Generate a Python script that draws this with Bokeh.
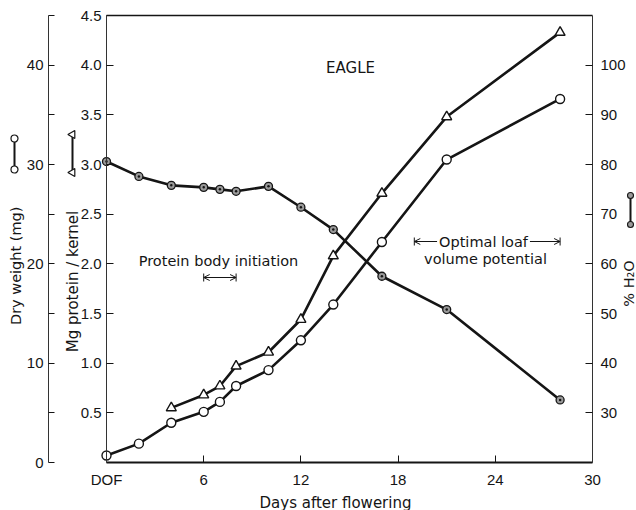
import math
from bokeh.plotting import figure
from bokeh.models import (Range1d, LinearAxis, FixedTicker, Label, Arrow, OpenHead,
                          TeeHead, ColumnDataSource, PrintfTickFormatter)
from bokeh.embed import file_html
from bokeh.resources import INLINE

# ---------------- data ----------------
days_dry = [0, 2, 4, 6, 7, 8, 10, 12, 14, 17, 21, 28]
dry_weight_mg = [0.7, 1.9, 4.0, 5.1, 6.1, 7.7, 9.3, 12.3, 15.9, 22.2, 30.5, 36.6]

days_protein = [4, 6, 7, 8, 10, 12, 14, 17, 21, 28]
protein_mg = [0.55, 0.68, 0.77, 0.97, 1.11, 1.44, 2.08, 2.71, 3.48, 4.33]

days_h2o = [0, 2, 4, 6, 7, 8, 10, 12, 14, 17, 21, 28]
h2o_pct = [80.6, 77.6, 75.8, 75.4, 75.0, 74.6, 75.6, 71.4, 66.9, 57.5, 50.8, 32.6]

x_ticks = [0, 6, 12, 18, 24, 30]
x_tick_labels = ["DOF", "6", "12", "18", "24", "30"]
protein_ticks = [0.5, 1.0, 1.5, 2.0, 2.5, 3.0, 3.5, 4.0, 4.5]
dry_ticks = [0, 10, 20, 30, 40]
dry_minor_ticks = [5, 15, 25, 35, 45]
h2o_ticks = [30, 40, 50, 60, 70, 80, 90, 100]

protein_body_days = [6, 8]
loaf_days = [19, 28]

# ---------------- layout ----------------
W, H = 636, 510
PX_DAY = 16.2          # pixels per day
X0 = 106               # pixel of day 0 (from left of figure)
PX_P = 99.33           # pixels per mg protein
Y0 = 462               # pixel of protein 0 (from top of figure)

x_start, x_end = -X0 / PX_DAY, (W - X0) / PX_DAY
y_start, y_end = -(H - Y0) / PX_P, Y0 / PX_P

FONT = "DejaVu Sans"
TICK_FONT = "Liberation Sans"
INK = "#151515"

p = figure(width=W, height=H, x_range=Range1d(x_start, x_end),
           y_range=Range1d(y_start, y_end), output_backend="svg",
           toolbar_location=None, x_axis_location=None, y_axis_location=None,
           min_border=0, outline_line_color=None)
p.background_fill_color = "white"
p.border_fill_color = "white"
p.grid.visible = False
p.extra_y_ranges = {
    "dw": Range1d(y_start * 10, y_end * 10),
    "h2o": Range1d(20 + y_start * 20, 20 + y_end * 20),
}


def style(ax, size="15px"):
    ax.major_label_text_font = TICK_FONT
    ax.major_label_text_font_size = size
    ax.major_label_text_color = INK
    ax.major_tick_line_color = INK
    ax.minor_tick_line_color = INK
    ax.axis_line_color = "#333333"
    ax.axis_line_width = 1
    ax.major_tick_out = 0
    ax.minor_tick_out = 0
    ax.minor_tick_in = 0


# protein axis (inner left)
ax_p = LinearAxis(ticker=FixedTicker(ticks=protein_ticks), fixed_location=0,
                  bounds=(0, 4.5), formatter=PrintfTickFormatter(format="%.1f"))
style(ax_p)
ax_p.major_tick_in = 7
ax_p.major_label_standoff = 5
p.add_layout(ax_p, "left")

# dry weight axis (outer left)
ax_d = LinearAxis(y_range_name="dw",
                  ticker=FixedTicker(ticks=dry_ticks, minor_ticks=dry_minor_ticks),
                  fixed_location=(48 - X0) / PX_DAY, bounds=(0, 45))
style(ax_d)
ax_d.major_tick_in = 6
ax_d.minor_tick_in = 6
ax_d.major_label_standoff = 5
p.add_layout(ax_d, "left")

# % H2O axis (right)
ax_h = LinearAxis(y_range_name="h2o", ticker=FixedTicker(ticks=h2o_ticks),
                  fixed_location=30, bounds=(20, 110))
style(ax_h)
ax_h.major_tick_in = 7
ax_h.major_label_standoff = 8
p.add_layout(ax_h, "right")

# x axis
ax_x = LinearAxis(ticker=FixedTicker(ticks=x_ticks), fixed_location=0, bounds=(0, 30),
                  major_label_overrides={t: s for t, s in zip(x_ticks, x_tick_labels)})
style(ax_x)
ax_x.axis_line_width = 2
ax_x.axis_line_color = INK
ax_x.major_tick_in = 7
ax_x.major_label_standoff = 8
p.add_layout(ax_x, "below")

# top frame line
ax_t = LinearAxis(ticker=FixedTicker(ticks=[]), fixed_location=4.5, bounds=(0, 30))
style(ax_t)
ax_t.axis_line_color = INK
ax_t.axis_line_width = 1.5
ax_t.major_tick_in = 0
ax_t.major_label_text_font_size = "0px"
p.add_layout(ax_t, "above")

# ---------------- series ----------------
src_d = ColumnDataSource(dict(day=days_dry, v=dry_weight_mg))
src_p = ColumnDataSource(dict(day=days_protein, v=protein_mg))
src_h = ColumnDataSource(dict(day=days_h2o, v=h2o_pct))

p.line("day", "v", source=src_h, y_range_name="h2o", line_width=2.6, line_color=INK)
p.scatter("day", "v", source=src_h, y_range_name="h2o", marker="circle", size=8,
          fill_color="#9a9a9a", line_color=INK, line_width=1.3)
p.scatter("day", "v", source=src_h, y_range_name="h2o", marker="circle", size=2.5,
          fill_color=INK, line_color=None)

p.line("day", "v", source=src_d, y_range_name="dw", line_width=2.6, line_color=INK)
p.scatter("day", "v", source=src_d, y_range_name="dw", marker="circle", size=9,
          fill_color="white", line_color=INK, line_width=1.4)

p.line("day", "v", source=src_p, line_width=2.6, line_color=INK)
p.scatter("day", "v", source=src_p, marker="triangle", size=10,
          fill_color="white", line_color=INK, line_width=1.4)

# ---------------- annotations ----------------
def px2day(px):
    return (px - X0) / PX_DAY


def py2p(py):
    return (Y0 - py) / PX_P


def label(text, px, py, angle=0.0, size="14.5px", bg=None, baseline="middle"):
    lab = Label(x=px2day(px), y=py2p(py), text=text, angle=angle,
                text_align="center", text_baseline=baseline, text_font=FONT,
                text_font_size=size, text_color=INK)
    if bg is not None:
        lab.background_fill_color = bg
        lab.padding = 2
    p.add_layout(lab)


label("EAGLE", 350, 67, size="15px")
label("Protein body initiation", 218, 260)
label("volume potential", 485, 258)

for a, b, yy in [(protein_body_days[0], protein_body_days[1], py2p(277)),
                 (loaf_days[0], loaf_days[1], py2p(241))]:
    p.add_layout(Arrow(x_start=a, y_start=yy, x_end=b, y_end=yy, line_width=1,
                       line_color=INK,
                       start=OpenHead(size=6, line_width=1, line_color=INK),
                       end=OpenHead(size=6, line_width=1, line_color=INK)))
    p.add_layout(Arrow(x_start=a, y_start=yy, x_end=b, y_end=yy, line_width=1,
                       line_color=INK, line_alpha=0,
                       start=TeeHead(size=8, line_width=1, line_color=INK),
                       end=TeeHead(size=8, line_width=1, line_color=INK)))
# "Optimal loaf" sits on top of its arrow line
label("Optimal loaf", 483, 241, bg="white")

label("Dry weight  (mg)", 15, 263, angle=math.pi / 2)
label("Mg protein / kernel", 72, 281, angle=math.pi / 2, size="15px")
label("% H\u2082O", 628, 283, angle=math.pi / 2)
label("Days after flowering", 335, 502, size="15px", baseline="alphabetic")

# legend keys next to the axis titles
key_d = dict(x=[px2day(14)] * 2, y=[py2p(138), py2p(169)])
key_p = dict(x=[px2day(72)] * 2, y=[py2p(134), py2p(172)])
key_h = dict(x=[px2day(630)] * 2, y=[py2p(195), py2p(224)])
for k in (key_d, key_p, key_h):
    p.line(k["x"], k["y"], line_width=2, line_color=INK)
p.scatter(key_d["x"], key_d["y"], marker="circle", size=7, fill_color="white",
          line_color=INK, line_width=1.2)
p.scatter(key_p["x"], key_p["y"], marker="triangle", size=8, angle=math.pi / 2,
          fill_color="white", line_color=INK, line_width=1.2)
p.scatter(key_h["x"], key_h["y"], marker="circle", size=6, fill_color="#9a9a9a",
          line_color=INK, line_width=1.1)

open("out.html", "w").write(file_html(p, INLINE))
